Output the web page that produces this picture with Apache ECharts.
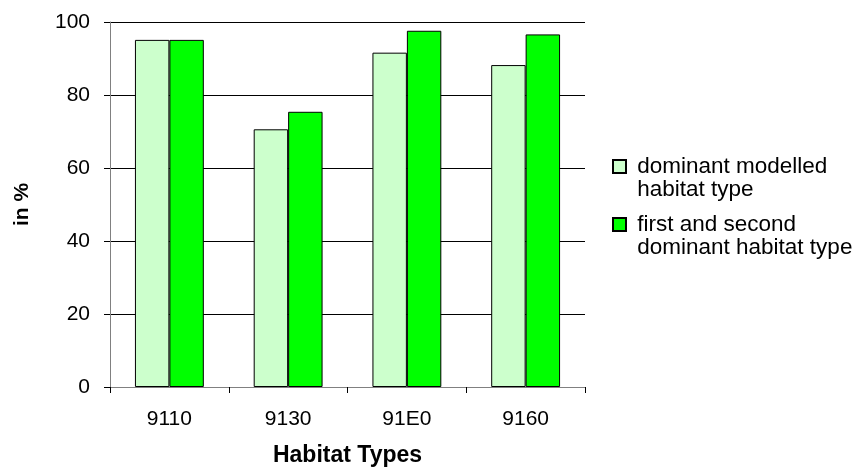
<!DOCTYPE html>
<html>
<head>
<meta charset="utf-8">
<script src="https://cdn.jsdelivr.net/npm/echarts@6/dist/echarts.min.js"></script>
<style>
  html, body { margin: 0; padding: 0; background: #fff; }
  #chart { width: 865px; height: 473px; }
</style>
</head>
<body>
<div id="chart"></div>
<script>
// Habitat type categories on the x axis
const categories = ['9110', '9130', '91E0', '9160'];

// Share (%) of plots matching the modelled habitat type
const dominantModelled = [95.1, 70.6, 91.6, 88.2];
const firstAndSecond = [95.1, 75.4, 97.6, 96.6];

const seriesNames = [
  'dominant modelled\nhabitat type',
  'first and second\ndominant habitat type'
];

const yTicks = { min: 0, max: 100, interval: 20 };

const font = 'Arial, "Liberation Sans", sans-serif';
const chart = echarts.init(document.getElementById('chart'), null, { renderer: 'canvas' });

// Legend text: a blank first line keeps the swatch level with the label's first line
const legendFormatter = name => ' \n' + name.split('\n').map(l => ' ' + l).join('\n');

const legendText = {
  color: '#000',
  fontFamily: font,
  fontSize: 22.5,
  lineHeight: 23
};

function legendBlock(name, top) {
  return {
    data: [name],
    left: 607, top: top,
    itemWidth: 13, itemHeight: 13,
    itemGap: 0,
    icon: 'rect',
    selectedMode: false,
    formatter: legendFormatter,
    textStyle: legendText
  };
}

chart.setOption({
  animation: false,
  backgroundColor: '#fff',
  grid: {
    left: 110, top: 22, width: 475, height: 365,
    containLabel: false,
    outerBoundsMode: 'none'
  },
  legend: [
    legendBlock(seriesNames[0], 127),
    legendBlock(seriesNames[1], 185)
  ],
  xAxis: {
    type: 'category',
    data: categories,
    name: 'Habitat Types',
    nameLocation: 'middle',
    nameGap: 57,
    nameTextStyle: { fontFamily: font, fontSize: 23, fontWeight: 'bold', color: '#000' },
    axisLine: { lineStyle: { color: '#808080', width: 1 } },
    axisTick: { show: true, length: 6, alignWithLabel: false, lineStyle: { color: '#000' } },
    axisLabel: { fontFamily: font, fontSize: 21, color: '#000', margin: 22 },
    splitLine: { show: false }
  },
  yAxis: {
    type: 'value',
    min: yTicks.min, max: yTicks.max, interval: yTicks.interval,
    name: 'in %',
    nameLocation: 'middle',
    nameGap: 77,
    nameRotate: 90,
    nameTextStyle: { fontFamily: font, fontSize: 21, fontWeight: 'bold', color: '#000' },
    axisLine: { show: true, lineStyle: { color: '#808080', width: 1 } },
    axisTick: { show: true, length: 6, lineStyle: { color: '#000' } },
    axisLabel: { fontFamily: font, fontSize: 21, color: '#000', margin: 20 },
    splitLine: { show: true, lineStyle: { color: '#000', width: 1 } }
  },
  series: [
    {
      name: seriesNames[0],
      type: 'bar',
      data: dominantModelled,
      barGap: '0%',
      barCategoryGap: '42%',
      itemStyle: { color: '#CCFFCC', borderColor: '#000', borderWidth: 1 }
    },
    {
      name: seriesNames[1],
      type: 'bar',
      data: firstAndSecond,
      barGap: '0%',
      barCategoryGap: '42%',
      itemStyle: { color: '#00FF00', borderColor: '#000', borderWidth: 1 }
    }
  ]
});
</script>
</body>
</html>
